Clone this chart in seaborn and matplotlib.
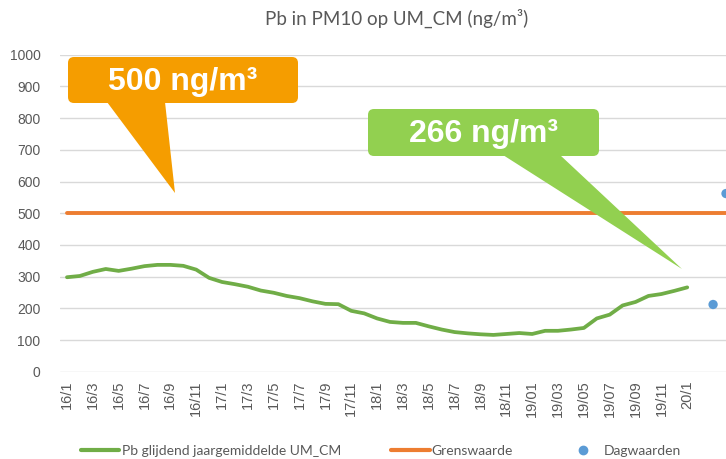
import matplotlib
matplotlib.use("Agg")
import matplotlib.pyplot as plt
import seaborn as sns
from matplotlib.patches import FancyBboxPatch, Polygon
from matplotlib.transforms import IdentityTransform
from matplotlib.lines import Line2D

# monthly values, Jan 2016 .. Jan 2020 (index 0..48)
pb_values = [298, 302, 315, 324, 318, 325, 333, 337, 337, 334, 322, 296, 283,
             276, 268, 256, 249, 239, 232, 222, 214, 213, 192, 184, 168, 157,
             154, 154, 143, 133, 125, 121, 118, 116, 119, 122, 119, 129, 129,
             133, 138, 168, 180, 209, 220, 239, 245, 255, 266]
grens_value = 500
grens_months = 53
dag_months = [50, 51]
dag_values = [212, 562]
tick_labels = ["16/1", "16/3", "16/5", "16/7", "16/9", "16/11",
               "17/1", "17/3", "17/5", "17/7", "17/9", "17/11",
               "18/1", "18/3", "18/5", "18/7", "18/9", "18/11",
               "19/01", "19/03", "19/05", "19/07", "19/09", "19/11", "20/1"]
title = "Pb in PM10 op UM_CM (ng/m³)"
labels = ["Pb glijdend jaargemiddelde UM_CM", "Grenswaarde", "Dagwaarden"]

GREEN, ORANGE, BLUE = "#70AD47", "#ED7D31", "#5B9BD5"
GRAY = "#595959"
W, H = 726, 459

sns.set_style("white")
plt.rcParams["font.family"] = ["Lato", "DejaVu Sans"]

fig = plt.figure(figsize=(W / 100, H / 100), dpi=100)
ax = fig.add_axes([60 / W, (H - 371.7) / H, 666 / W, (371.7 - 54.7) / H])

sns.lineplot(x=list(range(len(pb_values))), y=pb_values, ax=ax,
             color=GREEN, linewidth=2.7, zorder=3)
sns.lineplot(x=list(range(grens_months)), y=[grens_value] * grens_months, ax=ax,
             color=ORANGE, linewidth=2.8, zorder=2)
sns.scatterplot(x=dag_months, y=dag_values, ax=ax, color=BLUE, s=45,
                edgecolor="none", zorder=4, clip_on=True)

ax.set_xlim(-0.54, 51.0)
ax.set_ylim(0, 1000)
ax.set_yticks(range(0, 1001, 100))
ax.set_xticks(range(0, 49, 2))
ax.set_xticklabels(tick_labels, rotation=90)
ax.tick_params(axis="both", length=0, colors=GRAY, labelsize=10)
ax.tick_params(axis="x", labelsize=10.5, pad=6)
ax.tick_params(axis="y", pad=14)
for lbl in ax.get_xticklabels() + ax.get_yticklabels():
    lbl.set_family(["Liberation Sans", "DejaVu Sans"])
ax.yaxis.grid(True, color="#D9D9D9", linewidth=1)
ax.set_axisbelow(True)
for s in ax.spines.values():
    s.set_visible(False)
ax.set_xlabel("")
ax.set_ylabel("")

fig.text(397 / W, 1 - 18 / H, title, ha="center", va="center",
         fontsize=13.5, color=GRAY)


def callout(box, wedge, text, color):
    x0, y0, x1, y1 = box
    ident = IdentityTransform()
    fig.patches.append(FancyBboxPatch(
        (x0, H - y1), x1 - x0, y1 - y0,
        boxstyle="round,pad=0,rounding_size=6", transform=ident,
        facecolor=color, edgecolor="none", zorder=5))
    fig.patches.append(Polygon([(x, H - y) for x, y in wedge], closed=True,
                               transform=ident, facecolor=color,
                               edgecolor="none", zorder=5))
    fig.text((x0 + x1) / 2 / W, 1 - (y0 + y1) / 2 / H - 0.004, text,
             ha="center", va="center", color="white", fontsize=23,
             fontweight="bold", family=["Liberation Sans", "DejaVu Sans"],
             zorder=6)


callout((68, 57, 298, 103), [(107, 102), (165, 102), (175, 193)],
        "500 ng/m³", "#F59D00")
callout((368, 109, 599, 156), [(503, 155), (560, 155), (682, 269)],
        "266 ng/m³", "#92D050")

handles = [Line2D([], [], color=GREEN, linewidth=3),
           Line2D([], [], color=ORANGE, linewidth=3),
           Line2D([], [], color=BLUE, linestyle="none", marker="o",
                  markersize=6)]
fig.legend(handles, labels, loc="center", bbox_to_anchor=(381 / W, 8 / H),
           ncol=3, frameon=False, fontsize=10, handlelength=2.8,
           handletextpad=0.15, columnspacing=3.6, labelcolor=GRAY)

fig.savefig("out.png", dpi=100)
